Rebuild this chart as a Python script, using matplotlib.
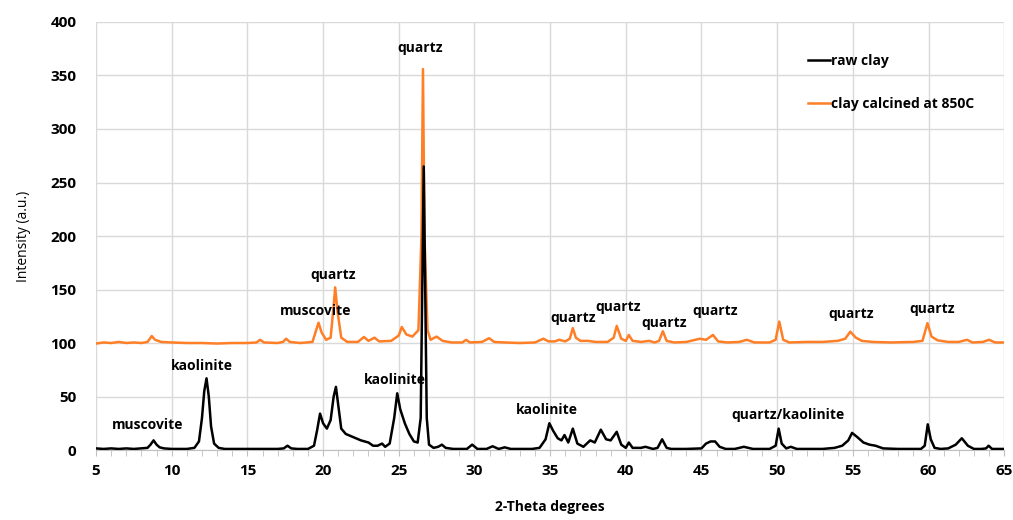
import matplotlib
matplotlib.use("Agg")
import matplotlib.pyplot as plt
from matplotlib.ticker import MultipleLocator

# diffractogramme argile brute
raw_x = [5.0, 5.5, 6.0, 6.5, 7.0, 7.5, 8.0, 8.4, 8.6, 8.8, 9.0, 9.2, 9.5, 10.0, 10.5, 11.0,
         11.5, 11.8, 12.0, 12.15, 12.3, 12.45, 12.6, 12.8, 13.1, 13.5, 14.0, 15.0, 16.0, 17.0,
         17.4, 17.65, 17.9, 18.3, 19.0, 19.4, 19.6, 19.8, 20.0, 20.25, 20.5, 20.7, 20.85, 21.0,
         21.2, 21.5, 22.0, 22.5, 23.0, 23.3, 23.6, 23.9, 24.1, 24.4, 24.7, 24.9, 25.1, 25.4,
         25.7, 26.0, 26.25, 26.45, 26.58, 26.65, 26.72, 26.85, 27.0, 27.3, 27.6, 27.85, 28.1,
         28.6, 29.5, 29.85, 30.2, 30.8, 31.2, 31.6, 32.0, 32.4, 33.0, 33.8, 34.3, 34.7, 34.95,
         35.2, 35.5, 35.75, 35.95, 36.2, 36.5, 36.8, 37.2, 37.65, 37.95, 38.35, 38.7, 39.0,
         39.4, 39.7, 40.0, 40.2, 40.45, 41.0, 41.3, 41.8, 42.1, 42.4, 42.7, 43.0, 44.0, 45.0,
         45.3, 45.6, 45.9, 46.2, 46.6, 47.2, 47.8, 48.4, 49.5, 49.9, 50.1, 50.3, 50.6, 50.9,
         51.3, 52.0, 53.0, 53.8, 54.3, 54.7, 54.95, 55.3, 55.7, 56.1, 56.5, 57.0, 58.0, 59.5,
         59.75, 59.95, 60.15, 60.4, 60.8, 61.3, 61.8, 62.2, 62.6, 63.0, 63.5, 63.8, 63.97,
         64.2, 64.5, 65.0]
raw_y = [1.5, 1, 1.5, 1, 1.5, 1, 1.5, 2, 5, 9, 5, 2.5, 1.5, 1, 1, 1,
         2, 8, 30, 55, 67, 50, 22, 6, 2, 1, 1, 1, 1, 1,
         1.5, 4, 1.5, 1, 1, 4, 18, 34, 25, 20, 28, 50, 59, 42,
         20, 15, 12, 9, 7, 4, 4, 6, 3, 6, 30, 53, 38, 25,
         15, 8, 7, 30, 180, 265, 180, 30, 5, 2, 3, 5, 2,
         1, 1, 5, 1, 1, 3.5, 1, 2.5, 1, 1, 1, 2, 10, 25,
         18, 11, 9, 14, 7, 20, 6, 3, 9, 7, 19, 10, 9,
         17, 5, 2, 7, 2, 2, 3, 1, 2, 10, 2, 1, 1, 1.5,
         6, 8, 8, 3, 1, 1, 3, 1, 1, 4, 20, 6, 1.5, 3,
         1, 1, 1, 2, 4, 9, 16, 12, 7, 5, 4, 1.5, 1, 1,
         4, 24, 10, 2, 1, 1.5, 5, 11, 4, 1, 1, 1.5, 4,
         1, 1, 1]

# argile calcinee a 850C
calc_x = [5.0, 5.5, 6.0, 6.5, 7.0, 7.5, 8.0, 8.4, 8.68, 8.9, 9.3, 10.0, 11.0, 12.0, 13.0,
          14.0, 15.0, 15.6, 15.84, 16.1, 17.0, 17.35, 17.56, 17.8, 18.5, 19.3, 19.5, 19.7,
          19.9, 20.2, 20.5, 20.7, 20.8, 20.95, 21.2, 21.6, 22.3, 22.7, 23.0, 23.4, 23.7,
          24.5, 25.0, 25.2, 25.5, 25.9, 26.3, 26.5, 26.6, 26.7, 26.9, 27.1, 27.5, 27.9,
          28.5, 29.2, 29.45, 29.7, 30.5, 30.97, 31.3, 32.0, 33.0, 34.0, 34.55, 34.9, 35.3,
          35.6, 36.0, 36.3, 36.5, 36.7, 37.0, 37.5, 38.0, 38.8, 39.2, 39.4, 39.7, 40.0,
          40.2, 40.45, 41.0, 41.55, 41.9, 42.2, 42.45, 42.7, 43.2, 44.0, 44.9, 45.3, 45.76,
          46.1, 46.7, 47.5, 48.0, 48.5, 49.5, 49.9, 50.14, 50.4, 50.8, 52.0, 53.0, 54.0,
          54.5, 54.83, 55.2, 55.6, 56.3, 57.5, 59.0, 59.6, 59.93, 60.2, 60.6, 61.3, 62.0,
          62.55, 62.9, 63.6, 64.0, 64.4, 65.0]
calc_y = [99.5, 100.5, 100, 101, 100, 100.5, 100, 101, 106.5, 103, 101, 100.5, 100, 100, 99.5,
          100, 100, 100.5, 103, 100.5, 100, 101, 104, 101, 100, 101, 110, 119,
          110, 103, 105, 135, 152, 130, 105, 101, 101, 105.6, 102, 105, 101.5,
          102, 107, 115, 108, 106, 112, 200, 356, 200, 112, 103, 106, 102,
          100.5, 100.5, 103, 100.5, 101, 104.5, 101, 100.5, 100, 100.5, 104, 101.5, 101.5,
          103, 101.5, 104, 114, 105, 102, 102, 101, 101, 105, 116, 104, 102,
          107.5, 102, 101, 102, 100.5, 102, 111, 102, 100.5, 101, 104, 103, 107.5,
          101.5, 100.5, 101, 103, 100.5, 100.5, 103, 120, 103, 100.5, 101, 101, 102,
          104, 110.6, 105, 102, 101, 100.5, 101, 102, 118.6, 106, 102.5, 101, 101,
          103, 100.5, 101, 103, 100.5, 100.5]

# etiquettes des phases
labels = ["quartz", "quartz", "muscovite", "kaolinite", "muscovite", "kaolinite", "kaolinite",
          "quartz", "quartz", "quartz", "quartz", "quartz/kaolinite", "quartz", "quartz"]
label_x = [26.4, 20.65, 19.5, 12.0, 8.4, 24.75, 34.8, 36.5, 39.5, 42.55, 45.9, 50.7, 54.9, 60.25]
label_y = [376, 164, 130, 78.5, 23, 65.5, 37, 123, 134, 119, 130, 33, 127, 132]

plt.rcParams["font.family"] = ["Open Sans", "DejaVu Sans"]
plt.rcParams["font.weight"] = "bold"

fig = plt.figure(figsize=(10.13, 5.2), dpi=100)
ax = fig.add_axes([0.0948, 0.1346, 0.8965, 0.8231])

l2, = ax.plot(calc_x, calc_y, color="#ff7f27", lw=1.8, label="clay calcined at 850C", zorder=3)
l1, = ax.plot(raw_x, raw_y, color="black", lw=1.8, label="raw clay", zorder=4)

for txt, tx, ty in zip(labels, label_x, label_y):
    ax.text(tx, ty, txt, ha="center", va="center", fontsize=10, fontweight="bold", zorder=5)

ax.set_xlim(5, 65)
ax.set_ylim(0, 400)
ax.xaxis.set_major_locator(MultipleLocator(5))
ax.xaxis.set_minor_locator(MultipleLocator(1))
ax.yaxis.set_major_locator(MultipleLocator(50))
ax.grid(True, which="major", color="#d9d9d9", lw=1)
ax.set_axisbelow(True)

for s in ["top", "right", "left"]:
    ax.spines[s].set_visible(False)
ax.spines["bottom"].set_color("#bfbfbf")

ax.tick_params(axis="x", which="both", color="#bfbfbf", length=4, labelsize=11, pad=6)
ax.tick_params(axis="y", length=0, labelsize=11, pad=14)

ax.set_xlabel("2-Theta degrees", fontsize=10, fontweight="bold", labelpad=16)
ax.set_ylabel("Intensity (a.u.)", fontsize=10, fontweight="normal", labelpad=14)

ax.legend(handles=[l1, l2], loc="upper left", bbox_to_anchor=(0.77, 0.955), frameon=False,
          fontsize=10, handlelength=1.6, handletextpad=0.1, labelspacing=2.1)

fig.savefig("out.png", dpi=100)
